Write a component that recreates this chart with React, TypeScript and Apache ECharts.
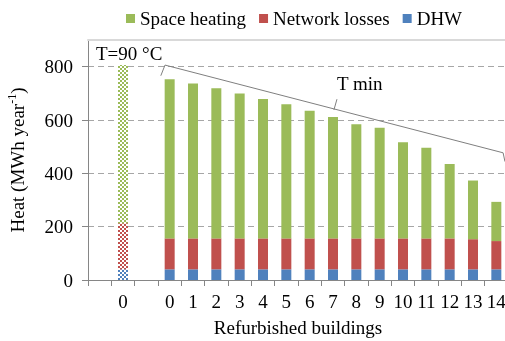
import React, { useEffect, useRef } from "react";
import * as echarts from "echarts";

const categories = ["", "0", "", "0", "1", "2", "3", "4", "5", "6", "7", "8", "9", "10", "11", "12", "13", "14"];
const refDHW = 40;
const refLosses = 173;
const refSpace = 593;
const dhw = [40, 40, 40, 40, 40, 40, 40, 40, 40, 40, 40, 40, 40, 40, 40];
const losses = [116, 116, 116, 116, 116, 116, 116, 116, 116, 116, 116, 116, 116, 113, 106];
const space = [597, 581, 563, 543, 523, 503, 479, 455, 428, 415, 361, 340, 279, 220, 147];
const tMinLine = [[3.12, 766], [3.3, 806], [17.79, 477], [17.87, 444]];
const tMinLeader = [[10.54, 638], [10.67, 678]];
const yTicks = { min: 0, max: 900, interval: 200 };

const GREEN = "#9BBB59";
const RED = "#C0504D";
const BLUE = "#4F81BD";
const FONT = "Liberation Serif";

function checker(color: string) {
  const c = document.createElement("canvas");
  c.width = 4;
  c.height = 4;
  const ctx = c.getContext("2d")!;
  ctx.fillStyle = "#ffffff";
  ctx.fillRect(0, 0, 4, 4);
  ctx.fillStyle = color;
  ctx.fillRect(0, 0, 2, 2);
  ctx.fillRect(2, 2, 2, 2);
  return { image: c.toDataURL(), repeat: "repeat" };
}

function buildData(refVal: number, vals: number[], color: string) {
  const out: any[] = [null, { value: refVal, itemStyle: { color: checker(color) } }, null];
  vals.forEach((v) => out.push(v));
  return out;
}

export default function App() {
  const ref = useRef<HTMLDivElement>(null);
  useEffect(() => {
    const chart = echarts.init(ref.current!, null, { renderer: "svg" });
    const barCommon = { type: "bar", stack: "heat", barWidth: 10, xAxisIndex: 0, yAxisIndex: 0 };
    chart.setOption({
      animation: false,
      textStyle: { fontFamily: FONT },
      legend: {
        top: 4,
        left: 121,
        icon: "rect",
        itemWidth: 9,
        itemHeight: 9,
        itemGap: 13,
        textStyle: { fontFamily: FONT, fontSize: 19, color: "#000" },
        data: ["Space heating", "Network losses", "DHW"],
      },
      grid: { left: 88, top: 40, right: -3, bottom: 61, containLabel: false, outerBoundsMode: "none" },
      xAxis: [
        {
          type: "category",
          data: categories,
          position: "bottom",
          axisLine: { lineStyle: { color: "#868686" } },
          axisTick: { show: true, interval: 0, length: 6, lineStyle: { color: "#868686" } },
          axisLabel: { interval: 0, margin: 12, fontSize: 19, color: "#000", fontFamily: FONT },
          name: "Refurbished buildings",
          nameLocation: "middle",
          nameGap: 38,
          nameTextStyle: { fontSize: 19, color: "#000", fontFamily: FONT },
        },
        {
          type: "value",
          min: 0,
          max: 18,
          position: "top",
          axisLine: { show: true, lineStyle: { color: "#D9D9D9", width: 2 } },
          axisTick: { show: false },
          axisLabel: { show: false },
          splitLine: { show: false },
        },
      ],
      yAxis: {
        type: "value",
        min: yTicks.min,
        max: yTicks.max,
        interval: yTicks.interval,
        axisLine: { show: true, lineStyle: { color: "#868686" } },
        axisTick: { show: true, length: 6, lineStyle: { color: "#868686" } },
        axisLabel: { margin: 15, fontSize: 19, color: "#000", fontFamily: FONT, showMaxLabel: false },
        splitLine: { show: true, showMinLine: false, showMaxLine: false, lineStyle: { color: "#A6A6A6", type: [6, 4] } },
        name: "Heat (MWh year{sup|-1})",
        nameLocation: "middle",
        nameGap: 60,
        nameTextStyle: {
          fontSize: 19,
          color: "#000",
          fontFamily: FONT,
          rich: { sup: { fontSize: 12, verticalAlign: "top", fontFamily: FONT, color: "#000", padding: [0, 0, 10, 0] } },
        },
      },
      series: [
        { ...barCommon, name: "DHW", color: BLUE, data: buildData(refDHW, dhw, BLUE) },
        { ...barCommon, name: "Network losses", color: RED, data: buildData(refLosses, losses, RED) },
        { ...barCommon, name: "Space heating", color: GREEN, data: buildData(refSpace, space, GREEN) },
        {
          type: "line",
          xAxisIndex: 1,
          yAxisIndex: 0,
          data: tMinLine,
          symbol: "none",
          lineStyle: { color: "#7F7F7F", width: 1 },
          silent: true,
        },
        {
          type: "line",
          xAxisIndex: 1,
          yAxisIndex: 0,
          data: tMinLeader,
          symbol: "none",
          lineStyle: { color: "#7F7F7F", width: 1 },
          silent: true,
        },
      ],
      graphic: [
        { type: "text", left: 96, top: 44, style: { text: "T=90 °C", fontSize: 19, fontFamily: FONT, fill: "#000" } },
        { type: "text", left: 337, top: 74, style: { text: "T min", fontSize: 19, fontFamily: FONT, fill: "#000" } },
      ],
    });
    return () => chart.dispose();
  }, []);
  return <div ref={ref} style={{ position: "fixed", left: 0, top: 0, width: 505, height: 341 }} />;
}
